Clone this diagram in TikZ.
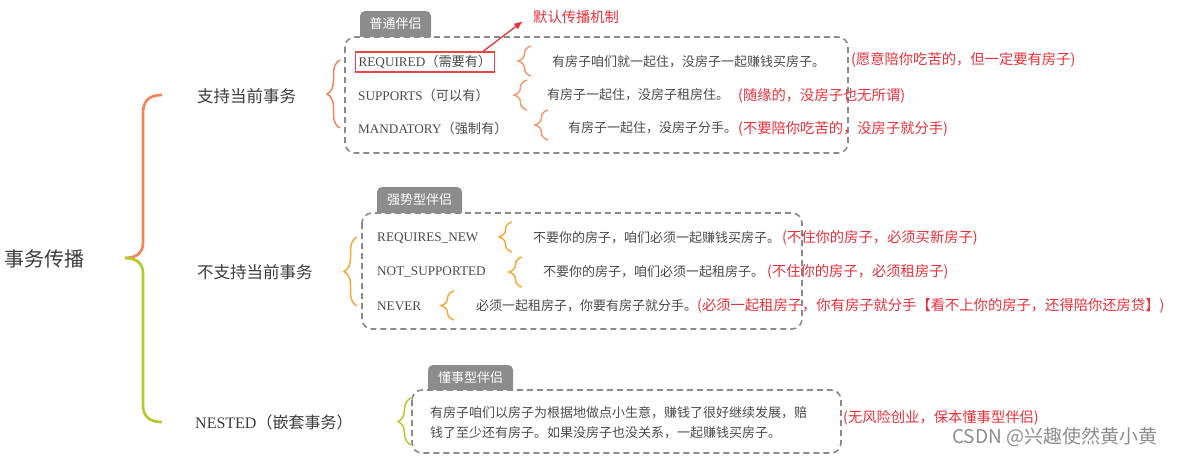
\documentclass[tikz,border=0pt]{standalone}
\usepackage{fontspec}
\setmainfont{Liberation Serif}
\newfontfamily\cjk{Noto Sans CJK SC}
\usetikzlibrary{decorations.pathreplacing,arrows.meta}

\definecolor{salmon}{HTML}{F2845C}
\definecolor{salmonlt}{HTML}{F39A72}
\definecolor{gold}{HTML}{F5A93A}
\definecolor{leaf}{HTML}{B5C928}
\definecolor{redtxt}{HTML}{E8303A}
\definecolor{redbox}{HTML}{E8454A}
\definecolor{tabgray}{HTML}{8C8C8C}
\definecolor{dashgray}{HTML}{8A8A8A}
\definecolor{txtgray}{HTML}{4A4A4A}

\tikzset{
  txt/.style={anchor=west, inner sep=0pt, text=txtgray, font=\cjk\fontsize{13}{15}\selectfont},
  note/.style={anchor=west, inner sep=0pt, text=redtxt, font=\cjk\fontsize{14.3}{16}\selectfont},
  lbl/.style={anchor=west, inner sep=0pt, text=txtgray, font=\fontsize{13.2}{15}\selectfont},
  cat/.style={anchor=west, inner sep=0pt, text=txtgray!80!black, font=\cjk\fontsize{16.5}{18}\selectfont},
  tab/.style={fill=tabgray, text=white, rounded corners=5pt, inner sep=0pt, minimum height=26pt, font=\cjk\fontsize{13}{15}\selectfont},
  groupbox/.style={draw=dashgray, line width=1.6pt, dash pattern=on 6pt off 4pt, rounded corners=10pt},
  curly/.style={decorate, decoration={brace, amplitude=13pt}, line width=1.5pt},
}

\begin{document}
\begin{tikzpicture}[x=1pt, y=-1pt]
    \useasboundingbox (0,0) rectangle (1178,456);

    % root and the big two-coloured brace
    \node[anchor=west, inner sep=0pt, text=txtgray!80!black, font=\cjk\fontsize{20}{22}\selectfont] (root) at (4,259) {事务传播};
    \draw[salmon, line width=2.7pt] (162,95) .. controls (150,95) and (143,100) .. (143,113) -- (143,243) .. controls (143,253) and (136,258) .. (125,258);
    \draw[leaf, line width=2.7pt] (125,258) .. controls (136,258) and (143,263) .. (143,273) -- (143,405) .. controls (143,417) and (150,422) .. (162,422);

    % categories
    \node[cat] (sup) at (197,96) {支持当前事务};
    \node[cat] (nosup) at (197,272) {不支持当前事务};
    \node[cat, font=\fontsize{16}{18}\selectfont] (nest) at (195,422) {NESTED{\cjk（嵌套事务）}};

    % group braces
    \draw[curly, salmon] (340,128) -- (340,60);
    \draw[curly, gold] (357,306) -- (357,237);
    \draw[curly, leaf] (411,445) -- (411,398);

    % first group: tab and dashed box
    \node[tab, minimum width=71pt] (tab1) at (395.5,24) {普通伴侣};
    \fill[tabgray] ([yshift=6pt]tab1.south west) rectangle (tab1.south east);
    \draw[groupbox] (345,37) rectangle (848,153);

    \node[lbl, draw=redbox, line width=1.2pt, inner xsep=3pt, minimum height=20pt] (req) at (355,62) {REQUIRED{\cjk（需要有）}};
    \node[note] (deflt) at (533,17) {默认传播机制};
    \draw[-{Latex[length=9pt,width=7pt]}, redtxt, line width=1.3pt] ([xshift=-12pt]req.north east) -- ([xshift=-10pt,yshift=-4pt]deflt.west);
    \draw[curly, salmonlt] (531,76) -- (531,46);
    \node[txt] (reqt) at (552,62) {有房子咱们就一起住，没房子一起赚钱买房子。};
    \node[note] (reqn) at (851,60) {(愿意陪你吃苦的，但一定要有房子)};

    \node[lbl] (supp) at (358,95) {SUPPORTS{\cjk（可以有）}};
    \draw[curly, salmonlt] (527,110) -- (527,80);
    \node[txt] (suppt) at (547,95) {有房子一起住，没房子租房住。};
    \node[note] (suppn) at (738,96) {(随缘的，没房子也无所谓)};

    \node[lbl] (mand) at (358,128) {MANDATORY{\cjk（强制有）}};
    \draw[curly, salmonlt] (548,140) -- (548,110);
    \node[txt] (mandt) at (568,128) {有房子一起住，没房子分手。};
    \node[note] (mandn) at (738,129) {(不要陪你吃苦的，没房子就分手)};

    % second group
    \node[tab, minimum width=85pt] (tab2) at (419.5,200) {强势型伴侣};
    \fill[tabgray] ([yshift=6pt]tab2.south west) rectangle (tab2.south east);
    \draw[groupbox] (362,213) rectangle (802,329);

    \node[lbl] (rnew) at (377,238) {REQUIRES\_NEW};
    \draw[curly, gold] (512,252) -- (512,222);
    \node[txt] (rnewt) at (533,238) {不要你的房子，咱们必须一起赚钱买房子。};
    \node[note] (rnewn) at (782,238) {(不住你的房子，必须买新房子)};

    \node[lbl] (nsup) at (377,272) {NOT\_SUPPORTED};
    \draw[curly, gold] (522,287) -- (522,257);
    \node[txt] (nsupt) at (543,272) {不要你的房子，咱们必须一起租房子。};
    \node[note] (nsupn) at (767,272) {(不住你的房子，必须租房子)};

    \node[lbl] (never) at (377,306) {NEVER};
    \draw[curly, gold] (454,320) -- (454,291);
    \node[txt] (nevert) at (476,306) {必须一起租房子，你要有房子就分手。};
    \node[note] (nevern) at (697,306) {(必须一起租房子，你有房子就分手【看不上你的房子，还得陪你还房贷】)};

    % third group
    \node[tab, minimum width=85pt, minimum height=25pt] (tab3) at (470.5,377.5) {懂事型伴侣};
    \fill[tabgray] ([yshift=6pt]tab3.south west) rectangle (tab3.south east);
    \draw[groupbox] (412,390) rectangle (841,453);

    \node[txt] (nestt) at (430,413) {有房子咱们以房子为根据地做点小生意，赚钱了很好继续发展，赔};
    \node[txt] (nestu) at (430,433) {钱了至少还有房子。如果没房子也没关系，一起赚钱买房子。};
    \node[note] (nestn) at (843,418) {(无风险创业，保本懂事型伴侣)};

    % watermark
    \node[anchor=west, inner sep=0pt, text=black!45, font=\cjk\fontsize{19}{21}\selectfont] (mark) at (952,437) {CSDN @兴趣使然黄小黄};
\end{tikzpicture}
\end{document}
